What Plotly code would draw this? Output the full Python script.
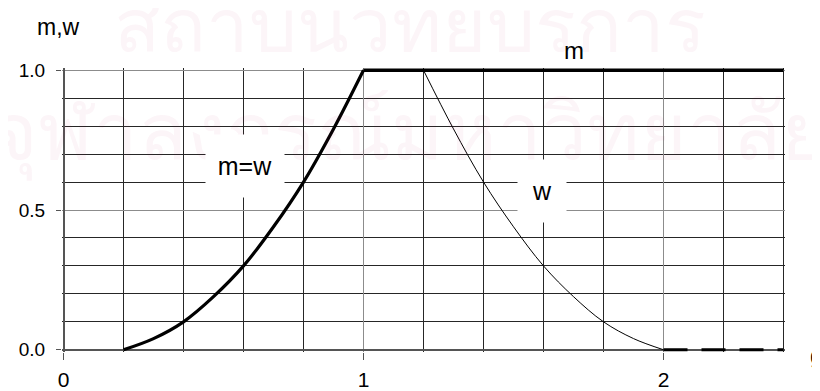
import plotly.graph_objects as go

# ---- data ----
g_mw = [0.2, 0.3, 0.4, 0.5, 0.6, 0.7, 0.8, 0.9, 1.0]
mw = [0.0, 0.04, 0.1, 0.19, 0.3, 0.44, 0.6, 0.79, 1.0]

g_m = [1.0, 2.4]
m = [1.0, 1.0]

g_w = [1.2, 1.3, 1.4, 1.5, 1.6, 1.7, 1.8, 1.9, 2.0]
w = [1.0, 0.79, 0.6, 0.44, 0.3, 0.19, 0.1, 0.04, 0.0]

g_w0 = [2.0, 2.4]
w0 = [0.0, 0.0]

x_ticks = [0, 1, 2]
x_ticktext = ["0", "1", "2"]
y_ticks = [0.0, 0.5, 1.0]
y_ticktext = ["0.0", "0.5", "1.0"]

watermark = ["สถาบันวิทยบริการ", "จุฬาลงกรณ์มหาวิทยาลัย"]

FONT = "Liberation Sans, Arial, sans-serif"
WM_COLOR = "rgba(180,20,90,0.045)"

fig = go.Figure()

fig.add_trace(go.Scatter(x=g_w, y=w, mode="lines",
                         line=dict(color="black", width=1, shape="spline"),
                         showlegend=False))
fig.add_trace(go.Scatter(x=g_w0, y=w0, mode="lines",
                         line=dict(color="black", width=3, dash="24px,14px"),
                         showlegend=False))
fig.add_trace(go.Scatter(x=g_mw, y=mw, mode="lines",
                         line=dict(color="black", width=3.2, shape="spline"),
                         showlegend=False))
fig.add_trace(go.Scatter(x=g_m, y=m, mode="lines",
                         line=dict(color="black", width=3.4),
                         showlegend=False))

major_grid = "#8c8c8c"
minor_grid = "#262626"

fig.update_layout(
    width=812, height=383,
    margin=dict(l=54, r=35, t=60, b=39),
    paper_bgcolor="white", plot_bgcolor="white",
    font=dict(family=FONT, color="black"),
    xaxis=dict(
        range=[-0.005, 2.405], tickvals=x_ticks, ticktext=x_ticktext,
        ticks="outside", ticklen=7, tickcolor="#555", tickwidth=1,
        showgrid=True, gridcolor=major_grid, gridwidth=1,
        minor=dict(tick0=0, dtick=0.2, showgrid=True, gridcolor=minor_grid,
                   gridwidth=1, ticks=""),
        zeroline=True, zerolinecolor="#555", zerolinewidth=1.5,
        showline=False, tickfont=dict(size=21, family=FONT),
        ticklabelstandoff=2, automargin=False, fixedrange=True),
    yaxis=dict(
        range=[-0.008, 1.008], tickvals=y_ticks, ticktext=y_ticktext,
        ticks="outside", ticklen=5, tickcolor="#555", tickwidth=1,
        showgrid=True, gridcolor=major_grid, gridwidth=1,
        minor=dict(tick0=0, dtick=0.1, showgrid=True, gridcolor=minor_grid,
                   gridwidth=1, ticks=""),
        zeroline=True, zerolinecolor="#555", zerolinewidth=1.5,
        showline=False, tickfont=dict(size=19, family=FONT),
        ticklabelstandoff=7, automargin=False, fixedrange=True),
    annotations=[
        # faint watermark (drawn first, so labels with white boxes cover it)
        dict(x=0.481, y=1.151, xref="paper", yref="paper", text=watermark[0],
             showarrow=False, xanchor="center", yanchor="middle",
             font=dict(size=76, color=WM_COLOR)),
        dict(x=0.481, y=0.765, xref="paper", yref="paper", text=watermark[1],
             showarrow=False, xanchor="center", yanchor="middle",
             font=dict(size=80, color=WM_COLOR)),
        dict(x=-0.0055, y=1.144, xref="paper", yref="paper", text="m,w",
             showarrow=False, xanchor="center", yanchor="middle",
             font=dict(size=23, family=FONT)),
        dict(x=0.7077, y=1.062, xref="paper", yref="paper", text="m",
             showarrow=False, xanchor="center", yanchor="middle",
             font=dict(size=24, family=FONT)),
        dict(x=0.606, y=0.657, xref="x", yref="y", text="m=w", showarrow=False,
             xanchor="center", yanchor="middle",
             font=dict(size=25, family=FONT), bgcolor="white",
             width=76, height=60, borderpad=1),
        dict(x=1.596, y=0.568, xref="x", yref="y", text="w", showarrow=False,
             xanchor="center", yanchor="middle",
             font=dict(size=25, family=FONT), bgcolor="white",
             width=46, height=60, borderpad=1),
        dict(x=1.0318, y=-0.014, xref="paper", yref="paper", text="g",
             showarrow=False, xanchor="left", yanchor="middle",
             font=dict(size=24, family=FONT)),
    ],
)

fig.write_html("out.html")
